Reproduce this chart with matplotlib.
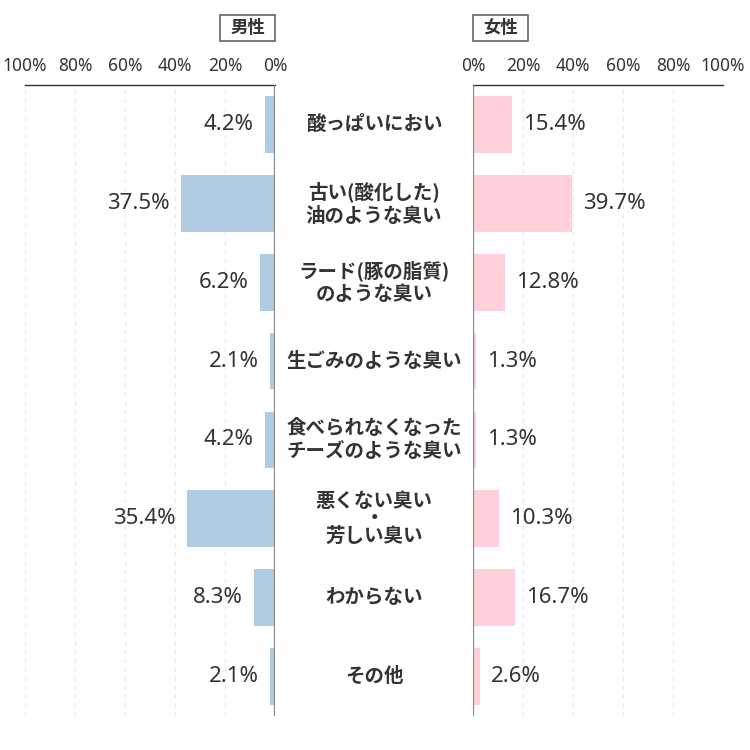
import matplotlib.pyplot as plt
from matplotlib.patches import Rectangle

plt.rcParams['font.family'] = ['Noto Sans CJK JP', 'DejaVu Sans']

categories = ['酸っぱいにおい', '古い(酸化した)\n油のような臭い', 'ラード(豚の脂質)\nのような臭い',
              '生ごみのような臭い', '食べられなくなった\nチーズのような臭い', '悪くない臭い\n・\n芳しい臭い',
              'わからない', 'その他']
male = [4.2, 37.5, 6.2, 2.1, 4.2, 35.4, 8.3, 2.1]
female = [15.4, 39.7, 12.8, 1.3, 1.3, 10.3, 16.7, 2.6]
ticks = [0, 20, 40, 60, 80, 100]
tick_labels = ['0%', '20%', '40%', '60%', '80%', '100%']

blue = '#b0cbe2'
pink = '#ffd0d9'
txt = '#333333'
num_font = ['Noto Sans', 'DejaVu Sans']

W = 750
fig = plt.figure(figsize=(7.5, 7.5), dpi=100)
top, bottom = 85, 716
h = (bottom - top) / W
axL = fig.add_axes([25 / W, 1 - bottom / W, 250 / W, h])
axR = fig.add_axes([473 / W, 1 - bottom / W, 250 / W, h])

n = len(categories)
ypos = list(range(n))

for ax, vals, col, side in [(axL, male, blue, 'L'), (axR, female, pink, 'R')]:
    ax.barh(ypos, vals, height=0.72, color=col, zorder=2)
    ax.set_xlim(0, 100)
    ax.set_ylim(n - 0.5, -0.5)
    if side == 'L':
        ax.invert_xaxis()
    for t in ticks[1:]:
        ax.axvline(t, color='#e8e8e8', lw=0.8, ls=(0, (4, 4)), zorder=1)
    for s in ax.spines.values():
        s.set_visible(False)
    ax.spines['top'].set_visible(True)
    ax.spines['top'].set_color('#333333')
    ax.spines['top'].set_linewidth(1.0)
    ax.axvline(0, color='#888888', lw=1.6, zorder=3)
    ax.set_yticks([])
    ax.xaxis.tick_top()
    ax.set_xticks(ticks)
    ax.set_xticklabels(tick_labels, fontsize=12.5, color=txt, family=num_font)
    ax.tick_params(axis='x', length=0, pad=7)
    for y, v in zip(ypos, vals):
        ax.text(v + 4.5, y, f'{v}%', ha='right' if side == 'L' else 'left', va='center',
                fontsize=16, color=txt, family=num_font)

# category labels in the gap
for y, c in zip(ypos, categories):
    yf = 1 - (top + (y + 0.5) * (bottom - top) / n) / W
    ls = 0.9 if c.count('\n') == 2 else 1.3
    fig.text(374 / W, yf, c, ha='center', va='center', fontsize=14, fontweight='bold',
             color=txt, linespacing=ls)

# header boxes
for x0, label in [(220, '男性'), (473, '女性')]:
    fig.patches.append(Rectangle((x0 / W, 1 - 41 / W), 55 / W, 26 / W, transform=fig.transFigure,
                                 fill=False, edgecolor='#666666', lw=1.2))
    fig.text((x0 + 27.5) / W, 1 - 28 / W, label, ha='center', va='center', fontsize=12.5,
             fontweight='bold', color=txt)

fig.savefig('out.png', dpi=100)
